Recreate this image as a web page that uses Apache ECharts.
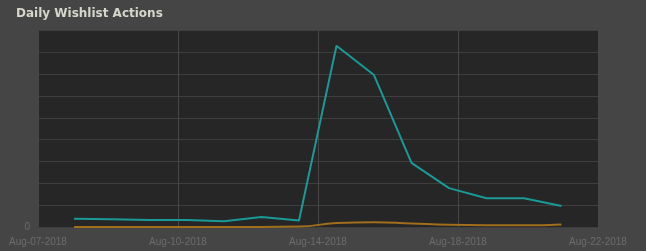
<!DOCTYPE html>
<html>
<head>
<meta charset="utf-8">
<script src="https://cdn.jsdelivr.net/npm/echarts@6/dist/echarts.min.js"></script>
<style>
html,body{margin:0;padding:0;background:#454545;}
#c{width:646px;height:251px;}
</style>
</head>
<body>
<div id="c"></div>
<script>
const titleText = 'Daily Wishlist Actions';
const tickLabels = ['Aug-07-2018', 'Aug-10-2018', 'Aug-14-2018', 'Aug-18-2018', 'Aug-22-2018'];
const days = ['Aug-07', 'Aug-08', 'Aug-09', 'Aug-10', 'Aug-11', 'Aug-12', 'Aug-13', 'Aug-14', 'Aug-15', 'Aug-16', 'Aug-17', 'Aug-18', 'Aug-19', 'Aug-20'];
const wishlistAdds = [19, 18, 16, 16, 13, 23, 15, 415, 348, 147, 89, 66, 66, 48];
const wishlistOther = [0, 0, 0, 0, 0, 0, 1, 9, 11, 8, 5, 4, 4, 6];
const yMax = 450;
const yStep = 50;

const chart = echarts.init(document.getElementById('c'), null, {renderer: 'canvas'});
chart.setOption({
  backgroundColor: '#454545',
  animation: false,
  title: {
    text: titleText,
    left: 11, top: 3,
    textStyle: {color: '#d6d6cc', fontSize: 12, fontWeight: 'bold', fontFamily: 'DejaVu Sans'}
  },
  grid: [
    {left: 38, right: 48, top: 30.5, bottom: 24, show: true, backgroundColor: '#262626', borderWidth: 0},
    {left: 74, right: 84.5, top: 30.5, bottom: 24, show: false}
  ],
  xAxis: [
    {
      type: 'category', gridIndex: 0, data: tickLabels, boundaryGap: false,
      axisLine: {show: false}, axisTick: {show: false},
      axisLabel: {color: '#6c6c6c', fontSize: 10, margin: 10, fontFamily: 'Liberation Sans', interval: 0},
      splitLine: {show: true, lineStyle: {color: '#474747', width: 1}}
    },
    {
      type: 'category', gridIndex: 1, data: days, boundaryGap: false, show: false
    }
  ],
  yAxis: [
    {
      type: 'value', gridIndex: 0, min: 0, max: yMax, interval: yStep,
      axisLine: {show: false}, axisTick: {show: false},
      axisLabel: {color: '#6c6c6c', fontSize: 10, margin: 8, fontFamily: 'Liberation Sans',
        formatter: v => v === 0 ? '0' : ''},
      splitLine: {show: true, lineStyle: {color: '#3e3e3e', width: 1}}
    },
    {type: 'value', gridIndex: 1, min: 0, max: yMax, interval: yStep, show: false, splitLine: {show: false}}
  ],
  series: [
    {
      name: 'Other', type: 'line', xAxisIndex: 1, yAxisIndex: 1, data: wishlistOther,
      smooth: true, showSymbol: false, lineStyle: {color: '#a06e1c', width: 2}, itemStyle: {color: '#a06e1c'}
    },
    {
      name: 'Adds', type: 'line', xAxisIndex: 1, yAxisIndex: 1, data: wishlistAdds,
      smooth: false, showSymbol: false, lineStyle: {color: '#1a9a96', width: 2}, itemStyle: {color: '#1a9a96'}
    }
  ]
});
</script>
</body>
</html>
